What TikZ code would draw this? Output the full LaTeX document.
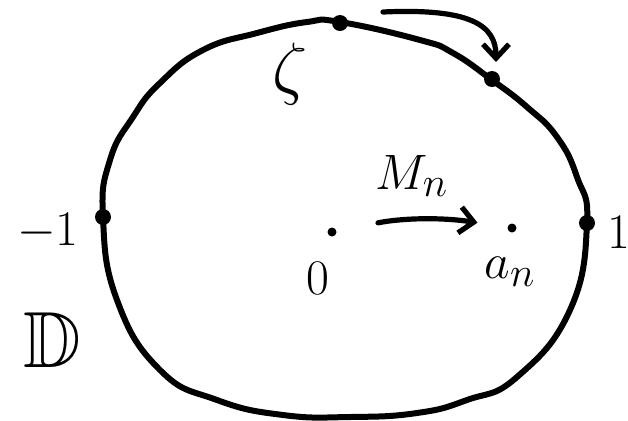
\documentclass[tikz,border=0pt]{standalone}
\usepackage{amsmath}
\usepackage{amssymb}
\usetikzlibrary{arrows.meta, positioning}

\begin{document}
\begin{tikzpicture}[
  x=0.5pt, y=-0.5pt,
  every node/.style={font=\Huge},
  rim/.style={line width=3pt, line join=round},
  bigdot/.style={circle, fill=black, inner sep=0pt, minimum size=8pt},
  smalldot/.style={circle, fill=black, inner sep=0pt, minimum size=4.5pt},
  arrow/.style={-{Straight Barb[length=7pt, width=13pt]}, line width=2.6pt, line cap=round},
]
\useasboundingbox (0,0) rectangle (628,420);

% Boundary of the disc
\draw[rim] plot[smooth cycle, tension=0.8] coordinates {
  (103,217) (110,160) (133,117) (160,83) (203,50) (257,33) (307,22) (340,22)
  (420,40) (453,53) (492,80) (527,107) (557,137) (577,177) (587,223)
  (570,310) (517,377) (467,400) (417,413) (350,417) (283,415)
  (217,400) (160,370) (117,300)};

% Points
\node[bigdot] (zeta) at (340,23) {};
\node[bigdot] (w) at (492,79) {};
\node[bigdot] (plusone) at (587,223) {};
\node[bigdot] (minusone) at (103,217) {};
\node[smalldot] (origin) at (332,232) {};
\node[smalldot] (an) at (512,228) {};

% Labels
\node[scale=1.4] (zetalab) at (290,74) {$\zeta$};
\node (minusonelab) at (48,232) {$-1$};
\node (plusonelab) at (619,232) {$1$};
\node (originlab) at (318,278) {$0$};
\node (anlab) at (510,272) {$a_n$};
\node (mnlab) at (412,176) {$M_n$};
\node[scale=1.6] (disclab) at (52,340) {$\mathbb{D}$};

% Arrows
\draw[arrow, shorten <=21pt, shorten >=15pt] (origin) to[bend left=10] (an);
\coordinate (rotstart) at (383,12);
\coordinate (rotend) at (496,62);
\draw[arrow] (rotstart) .. controls (470,8) and (496,25) .. (rotend);

\end{tikzpicture}
\end{document}
